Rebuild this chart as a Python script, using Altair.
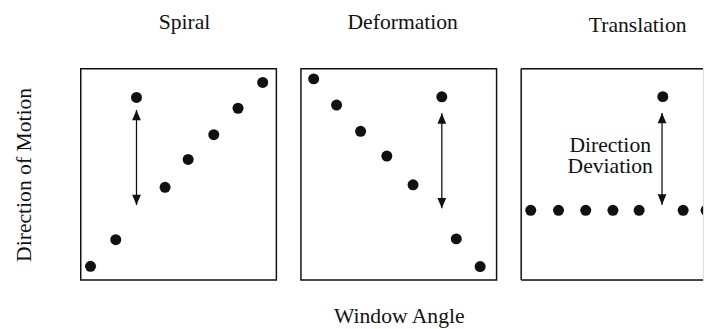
import altair as alt
import pandas as pd

FONT = "Liberation Serif"
INK = "#111111"

panel_titles = ["Spiral", "Deformation", "Translation"]
x_title = "Window Angle"
y_title = "Direction of Motion"

# Spiral panel
spiral_x = [0.50, 1.79, 2.85, 4.31, 5.49, 6.80, 8.04, 9.30]
spiral_y = [0.65, 1.91, 8.64, 4.39, 5.71, 6.88, 8.13, 9.35]
spiral_arrow_x = 2.85
spiral_arrow_y = [3.55, 8.05]

# Deformation panel
deform_x = [0.65, 1.82, 3.05, 4.39, 5.73, 7.20, 7.94, 9.16]
deform_y = [9.52, 8.28, 7.04, 5.87, 4.51, 8.67, 1.95, 0.64]
deform_arrow_x = 7.20
deform_arrow_y = [3.40, 7.89]

# Translation panel
trans_x = [0.49, 1.91, 3.30, 4.69, 6.03, 7.24, 8.28, 9.45]
trans_y = [3.30, 3.30, 3.30, 3.30, 3.30, 8.68, 3.30, 3.30]
trans_arrow_x = 7.20
trans_arrow_y = [3.57, 7.91]

annotation_lines = ["Direction", "Deviation"]
annotation_x = 4.55
annotation_y = [6.40, 5.38]

PANEL_W = 199
PANEL_H = 215
LAST_W = 185

UP_HEAD = "M0,0L0.85,2L-0.85,2Z"
DOWN_HEAD = "M0,0L0.85,-2L-0.85,-2Z"


def panel_frame(xs, ys, ax, ay, labels=None, label_x=None, label_y=None):
    rows = [{"x": a, "y": b, "y2": b, "kind": "dot", "text": ""} for a, b in zip(xs, ys)]
    rows.append({"x": ax, "y": ay[0], "y2": ay[1], "kind": "shaft", "text": ""})
    rows.append({"x": ax, "y": ay[1], "y2": ay[1], "kind": "up", "text": ""})
    rows.append({"x": ax, "y": ay[0], "y2": ay[0], "kind": "down", "text": ""})
    if labels:
        for t, ly in zip(labels, label_y):
            rows.append({"x": label_x, "y": ly, "y2": ly, "kind": "label", "text": t})
    return pd.DataFrame(rows)


def make_panel(df, title, x_axis, y_axis, title_dx=0, title_dy=0):
    xs = alt.Scale(domain=[0, 10], range=[0, PANEL_W], nice=False, zero=False)
    ys = alt.Scale(domain=[0, 10], nice=False, zero=False)
    base = alt.Chart(df).encode(
        x=alt.X("x:Q", scale=xs, axis=x_axis),
        y=alt.Y("y:Q", scale=ys, axis=y_axis),
    )
    dots = base.transform_filter(alt.datum.kind == "dot").mark_circle(
        size=125, color=INK, opacity=1, clip=True
    )
    shaft = base.transform_filter(alt.datum.kind == "shaft").mark_rule(
        color=INK, strokeWidth=1.3
    ).encode(y2="y2:Q")
    up = base.transform_filter(alt.datum.kind == "up").mark_point(
        shape=UP_HEAD, size=110, filled=True, color=INK, opacity=1, strokeWidth=0
    )
    down = base.transform_filter(alt.datum.kind == "down").mark_point(
        shape=DOWN_HEAD, size=110, filled=True, color=INK, opacity=1, strokeWidth=0
    )
    label = base.transform_filter(alt.datum.kind == "label").mark_text(
        font=FONT, fontSize=22, color=INK
    ).encode(text="text:N")
    layers = [dots, shaft, up, down, label]
    return layers, alt.TitleParams(
        text=title, font=FONT, fontSize=22, fontWeight="normal", color=INK,
        anchor="middle", baseline="alphabetic", offset=18, dx=title_dx, dy=title_dy,
    )


no_axis = None
y_axis_first = alt.Axis(
    title=y_title, labels=False, ticks=False, domain=False, grid=False,
    titleFont=FONT, titleFontSize=22, titleFontWeight="normal", titleColor=INK,
    titlePadding=46,
)
x_axis_mid = alt.Axis(
    title=x_title, labels=False, ticks=False, domain=False, grid=False,
    titleFont=FONT, titleFontSize=22, titleFontWeight="normal", titleColor=INK,
    titlePadding=26,
)

df1 = panel_frame(spiral_x, spiral_y, spiral_arrow_x, spiral_arrow_y)
df2 = panel_frame(deform_x, deform_y, deform_arrow_x, deform_arrow_y)
df3 = panel_frame(trans_x, trans_y, trans_arrow_x, trans_arrow_y,
                  annotation_lines, annotation_x, annotation_y)

l1, t1 = make_panel(df1, panel_titles[0], no_axis, y_axis_first, title_dx=6)
l2, t2 = make_panel(df2, panel_titles[1], x_axis_mid, no_axis, title_dx=4)
l3, t3 = make_panel(df3, panel_titles[2], no_axis, no_axis, title_dx=26, title_dy=3)

frame_src = alt.Chart(pd.DataFrame({"k": [0]}))
frame_top = frame_src.mark_rule(color=INK, strokeWidth=1.5).encode(
    x=alt.value(0), x2=alt.value(LAST_W), y=alt.value(0))
frame_bottom = frame_src.mark_rule(color=INK, strokeWidth=1.5).encode(
    x=alt.value(0), x2=alt.value(LAST_W), y=alt.value(PANEL_H))
frame_left = frame_src.mark_rule(color=INK, strokeWidth=1.5).encode(
    x=alt.value(0), y=alt.value(0), y2=alt.value(PANEL_H))

boxed = alt.ViewBackground(stroke=INK, strokeWidth=1.5)

p1 = alt.layer(*l1).properties(width=PANEL_W, height=PANEL_H, title=t1, view=boxed)
p2 = alt.layer(*l2).properties(width=PANEL_W, height=PANEL_H, title=t2, view=boxed)
p3 = alt.layer(*l3, frame_top, frame_bottom, frame_left).properties(
    width=LAST_W, height=PANEL_H, title=t3)

chart = alt.hconcat(p1, p2, p3, spacing=25, bounds="flush").properties(
    padding={"left": 4, "top": 0, "right": 0, "bottom": 0}
).configure_view(strokeWidth=0).configure(background="white")

chart.save("out.html", embed_options={"renderer": "svg", "actions": False})
